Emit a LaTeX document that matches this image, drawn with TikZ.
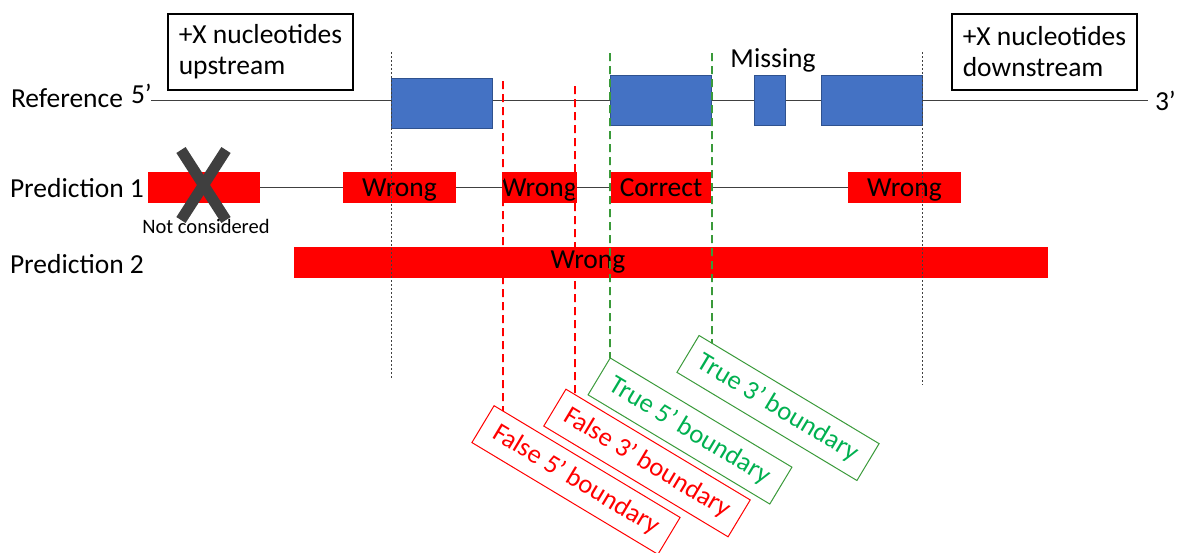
\documentclass[tikz,border=0pt]{standalone}
\usepackage{fontspec}
\setmainfont{Carlito}
\usetikzlibrary{backgrounds}
\definecolor{exonblue}{HTML}{4472C4}
\definecolor{exonedge}{HTML}{2F528F}
\definecolor{predred}{HTML}{FF0000}
\definecolor{truegreen}{HTML}{00B050}
\definecolor{truedash}{HTML}{3A9A3A}
\definecolor{crossgray}{HTML}{3F3F3F}
\definecolor{guide}{HTML}{404040}
\begin{document}
\begin{tikzpicture}[x=1pt,y=-1pt,
  every node/.style={font=\fontsize{27.5}{31}\selectfont, inner sep=0pt, outer sep=0pt},
  infobox/.style={draw=black, line width=1.1pt, minimum width=185, minimum height=76, align=left, anchor=north west},
  rowlabel/.style={anchor=base west},
  exon/.style={draw=exonedge, line width=0.8pt, fill=exonblue, minimum height=50, anchor=north west},
  predbox/.style={fill=predred, minimum height=31, text height=20.5, text depth=2.5, anchor=north west},
  strand/.style={draw=guide, line width=0.8pt},
  guideline/.style={draw=guide, line width=0.7pt, dash pattern=on 2pt off 2pt},
  falsedash/.style={draw=predred, line width=1.8pt, dash pattern=on 8pt off 5pt},
  truedashline/.style={draw=truedash, line width=1.8pt, dash pattern=on 8pt off 5pt},
  boundlabel/.style={font=\fontsize{26.5}{30}\selectfont, rotate=-31, minimum height=43, line width=1pt},
  falselabel/.style={boundlabel, draw=predred, text=predred},
  truelabel/.style={boundlabel, draw=truedash, text=truegreen}]
\useasboundingbox (0,0) rectangle (1178,552);

% flanking-region notes
\node[infobox] (up) at (168,14) {+X nucleotides\\upstream};
\node[infobox] (down) at (952,14) {+X nucleotides\\downstream};

% row labels
\node[rowlabel] (reflab) at (11,107) {Reference};
\node[rowlabel] (ref5) at (131,103) {5’};
\node[rowlabel] (ref3) at (1155,110) {3’};
\node[rowlabel] (pred1lab) at (10,197) {Prediction 1};
\node[rowlabel] (pred2lab) at (10,273) {Prediction 2};

% reference transcript
\coordinate (refL) at (151,100);
\coordinate (refR) at (1148,100);
\draw[strand] (refL) -- (refR);
\node[exon, minimum width=101] (e1) at (391,78) {};
\node[exon, minimum width=101] (e2) at (610,75) {};
\node[exon, minimum width=31] (e3) at (754,75) {};
\node[exon, minimum width=101] (e4) at (821,75) {};
\node (miss) at (773,60) {Missing};

% prediction 1
\node[predbox, minimum width=112] (p1a) at (148,172) {};
\node[predbox, minimum width=113] (p1b) at (343,172) {Wrong};
\node[predbox, minimum width=74] (p1c) at (502,172) {Wrong};
\node[predbox, minimum width=100] (p1d) at (611,172) {Correct};
\node[predbox, minimum width=113] (p1e) at (848,172) {Wrong};
\begin{scope}[on background layer]
  \draw[strand] (p1a.east) -- (p1e.west);
\end{scope}

% excluded block
\draw[crossgray, line width=11pt] (181,150) -- (226,220);
\draw[crossgray, line width=11pt] (226,150) -- (181,220);
\node[font=\fontsize{20.5}{24}\selectfont] (notc) at (206,226) {Not considered};

% prediction 2
\node[predbox, minimum width=754] (p2) at (294,247) {};
\node[anchor=base] (p2txt) at (588,268) {Wrong};

% boundary labels
\node[falselabel, minimum width=217] (f5) at (576,480) {False 5’ boundary};
\node[falselabel, minimum width=215] (f3) at (647,463) {False 3’ boundary};
\node[truelabel, minimum width=212] (t5) at (690,431) {True 5’ boundary};
\node[truelabel, minimum width=210] (t3) at (778,408) {True 3’ boundary};

% region guides
\coordinate (gA) at (391,52);
\coordinate (gAb) at (391,378);
\coordinate (gB) at (922,52);
\coordinate (gBb) at (922,385);
\draw[guideline] (gA) -- (gAb);
\draw[guideline] (gB) -- (gBb);

% boundary markers
\coordinate (r1) at (503,81);
\coordinate (r1b) at (503,600);
\coordinate (r2) at (575,86);
\coordinate (r2b) at (575,600);
\coordinate (g1) at (610,53);
\coordinate (g1b) at (610,600);
\coordinate (g2) at (712,53);
\coordinate (g2b) at (712,600);
\draw[falsedash] (r1) -- (intersection of r1--r1b and f5.north west--f5.north east);
\draw[falsedash] (r2) -- (intersection of r2--r2b and f3.north west--f3.north east);
\draw[truedashline] (g1) -- (intersection of g1--g1b and t5.north west--t5.north east);
\draw[truedashline] (g2) -- (intersection of g2--g2b and t3.north west--t3.north east);
\end{tikzpicture}
\end{document}
